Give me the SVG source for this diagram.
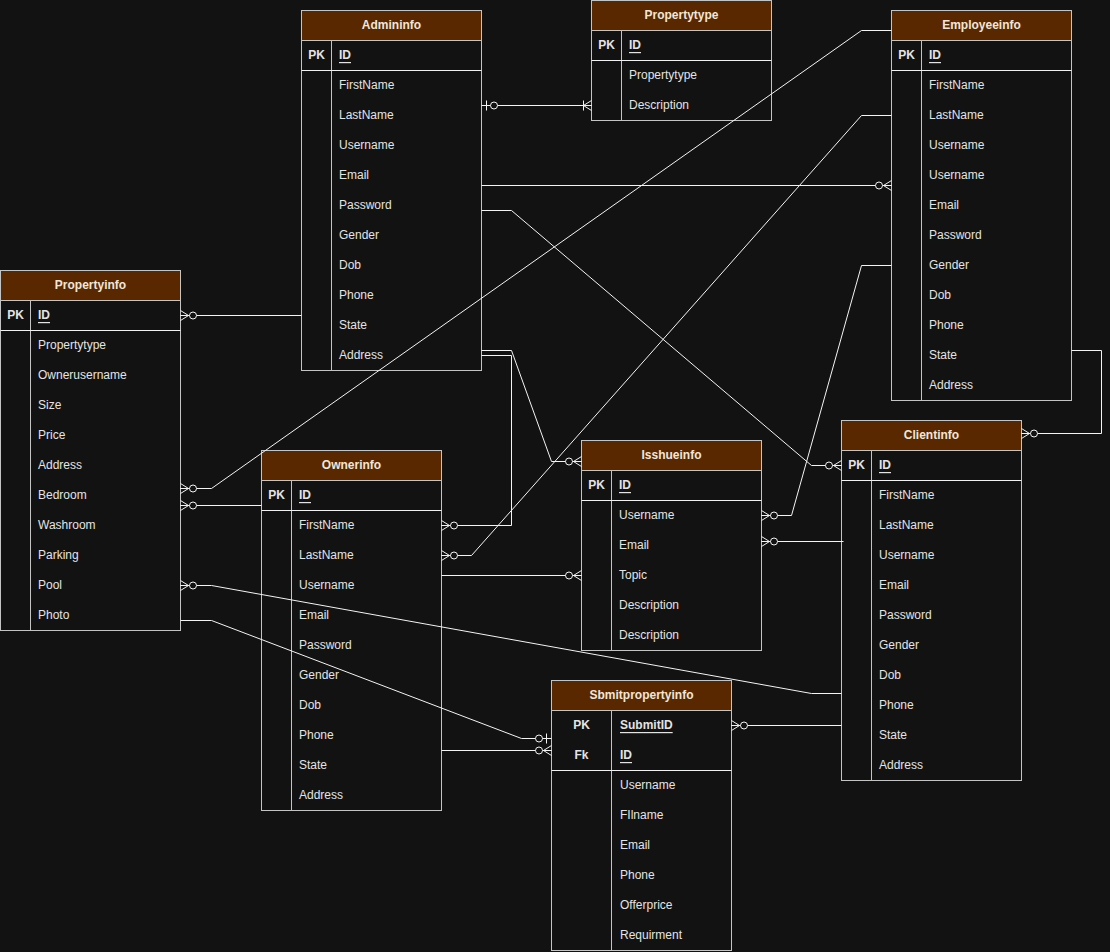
<svg xmlns="http://www.w3.org/2000/svg" width="1110" height="952" viewBox="0 0 1110 952">
  <defs>
    <style>
      .bg { fill: #121212; }
      .tb { fill: #121212; stroke: #c4c4c4; stroke-width: 1; }
      .hd { fill: #5a2800; stroke: #c4c4c4; stroke-width: 1; }
      .ln { stroke: #c4c4c4; stroke-width: 1; fill: none; }
      .sep { stroke: #f2f2f2; stroke-width: 1; fill: none; }
      .ht { font-family: "Liberation Sans", Arial, sans-serif; font-size: 12px; font-weight: bold; fill: #efe6dc; text-anchor: middle; dominant-baseline: central; }
      .t { font-family: "Liberation Sans", Arial, sans-serif; font-size: 12px; fill: #e4e4e4; dominant-baseline: central; }
      .k { text-anchor: middle; }
      .u { text-decoration: underline; }
      .b { font-weight: bold; }
      .c { stroke: #f4f4f4; stroke-width: 1; fill: none; }
      .m { stroke: #f4f4f4; stroke-width: 1; fill: #121212; }
    </style>
    <!-- crow's foot with a ring: zero or many -->
    <marker id="zeroMany" markerUnits="userSpaceOnUse" viewBox="-20 -10 22 20" refX="0" refY="0" markerWidth="22" markerHeight="20" orient="auto-start-reverse" overflow="visible">
      <path class="m" d="M-8,0 L0,-5 M-8,0 L0,0 M-8,0 L0,5"/>
      <circle class="m" cx="-12.5" cy="0" r="3.5"/>
    </marker>
    <!-- bar with a ring: zero or one -->
    <marker id="zeroOne" markerUnits="userSpaceOnUse" viewBox="-20 -10 22 20" refX="0" refY="0" markerWidth="22" markerHeight="20" orient="auto-start-reverse" overflow="visible">
      <path class="m" d="M-5,-5 L-5,5"/>
      <circle class="m" cx="-12.5" cy="0" r="3.5"/>
    </marker>
    <!-- crow's foot with a bar: one or many -->
    <marker id="oneMany" markerUnits="userSpaceOnUse" viewBox="-20 -10 22 20" refX="0" refY="0" markerWidth="22" markerHeight="20" orient="auto-start-reverse" overflow="visible">
      <path class="m" d="M-8,0 L0,-5 M-8,0 L0,0 M-8,0 L0,5 M-8,-5 L-8,5"/>
    </marker>
  </defs>

  <rect class="bg" x="0" y="0" width="1110" height="952"/>

  <!-- Admininfo -->
  <g id="admininfo">
    <rect class="tb" x="301.5" y="10.5" width="180" height="360"/>
    <rect class="hd" x="301.5" y="10.5" width="180" height="30"/>
    <text class="ht" x="391.5" y="25">Admininfo</text>
    <line class="ln" x1="331.5" y1="40.5" x2="331.5" y2="370.5"/>
    <line class="sep" x1="301.5" y1="70.5" x2="481.5" y2="70.5"/>
    <text class="t k b" x="316.5" y="55">PK</text>
    <text class="t u b" x="339" y="55">ID</text>
    <text class="t" x="339" y="85">FirstName</text>
    <text class="t" x="339" y="115">LastName</text>
    <text class="t" x="339" y="145">Username</text>
    <text class="t" x="339" y="175">Email</text>
    <text class="t" x="339" y="205">Password</text>
    <text class="t" x="339" y="235">Gender</text>
    <text class="t" x="339" y="265">Dob</text>
    <text class="t" x="339" y="295">Phone</text>
    <text class="t" x="339" y="325">State</text>
    <text class="t" x="339" y="355">Address</text>
  </g>

  <!-- Propertytype -->
  <g id="propertytype">
    <rect class="tb" x="591.5" y="0.5" width="180" height="120"/>
    <rect class="hd" x="591.5" y="0.5" width="180" height="30"/>
    <text class="ht" x="681.5" y="15">Propertytype</text>
    <line class="ln" x1="621.5" y1="30.5" x2="621.5" y2="120.5"/>
    <line class="sep" x1="591.5" y1="60.5" x2="771.5" y2="60.5"/>
    <text class="t k b" x="606.5" y="45">PK</text>
    <text class="t u b" x="629" y="45">ID</text>
    <text class="t" x="629" y="75">Propertytype</text>
    <text class="t" x="629" y="105">Description</text>
  </g>

  <!-- Employeeinfo -->
  <g id="employeeinfo">
    <rect class="tb" x="891.5" y="10.5" width="180" height="390"/>
    <rect class="hd" x="891.5" y="10.5" width="180" height="30"/>
    <text class="ht" x="981.5" y="25">Employeeinfo</text>
    <line class="ln" x1="921.5" y1="40.5" x2="921.5" y2="400.5"/>
    <line class="sep" x1="891.5" y1="70.5" x2="1071.5" y2="70.5"/>
    <text class="t k b" x="906.5" y="55">PK</text>
    <text class="t u b" x="929" y="55">ID</text>
    <text class="t" x="929" y="85">FirstName</text>
    <text class="t" x="929" y="115">LastName</text>
    <text class="t" x="929" y="145">Username</text>
    <text class="t" x="929" y="175">Username</text>
    <text class="t" x="929" y="205">Email</text>
    <text class="t" x="929" y="235">Password</text>
    <text class="t" x="929" y="265">Gender</text>
    <text class="t" x="929" y="295">Dob</text>
    <text class="t" x="929" y="325">Phone</text>
    <text class="t" x="929" y="355">State</text>
    <text class="t" x="929" y="385">Address</text>
  </g>

  <!-- Propertyinfo -->
  <g id="propertyinfo">
    <rect class="tb" x="0.5" y="270.5" width="180" height="360"/>
    <rect class="hd" x="0.5" y="270.5" width="180" height="30"/>
    <text class="ht" x="90.5" y="285">Propertyinfo</text>
    <line class="ln" x1="30.5" y1="300.5" x2="30.5" y2="630.5"/>
    <line class="sep" x1="0.5" y1="330.5" x2="180.5" y2="330.5"/>
    <text class="t k b" x="15.5" y="315">PK</text>
    <text class="t u b" x="38" y="315">ID</text>
    <text class="t" x="38" y="345">Propertytype</text>
    <text class="t" x="38" y="375">Ownerusername</text>
    <text class="t" x="38" y="405">Size</text>
    <text class="t" x="38" y="435">Price</text>
    <text class="t" x="38" y="465">Address</text>
    <text class="t" x="38" y="495">Bedroom</text>
    <text class="t" x="38" y="525">Washroom</text>
    <text class="t" x="38" y="555">Parking</text>
    <text class="t" x="38" y="585">Pool</text>
    <text class="t" x="38" y="615">Photo</text>
  </g>

  <!-- Ownerinfo -->
  <g id="ownerinfo">
    <rect class="tb" x="261.5" y="450.5" width="180" height="360"/>
    <rect class="hd" x="261.5" y="450.5" width="180" height="30"/>
    <text class="ht" x="351.5" y="465">Ownerinfo</text>
    <line class="ln" x1="291.5" y1="480.5" x2="291.5" y2="810.5"/>
    <line class="sep" x1="261.5" y1="510.5" x2="441.5" y2="510.5"/>
    <text class="t k b" x="276.5" y="495">PK</text>
    <text class="t u b" x="299" y="495">ID</text>
    <text class="t" x="299" y="525">FirstName</text>
    <text class="t" x="299" y="555">LastName</text>
    <text class="t" x="299" y="585">Username</text>
    <text class="t" x="299" y="615">Email</text>
    <text class="t" x="299" y="645">Password</text>
    <text class="t" x="299" y="675">Gender</text>
    <text class="t" x="299" y="705">Dob</text>
    <text class="t" x="299" y="735">Phone</text>
    <text class="t" x="299" y="765">State</text>
    <text class="t" x="299" y="795">Address</text>
  </g>

  <!-- Isshueinfo -->
  <g id="isshueinfo">
    <rect class="tb" x="581.5" y="440.5" width="180" height="210"/>
    <rect class="hd" x="581.5" y="440.5" width="180" height="30"/>
    <text class="ht" x="671.5" y="455">Isshueinfo</text>
    <line class="ln" x1="611.5" y1="470.5" x2="611.5" y2="650.5"/>
    <line class="sep" x1="581.5" y1="500.5" x2="761.5" y2="500.5"/>
    <text class="t k b" x="596.5" y="485">PK</text>
    <text class="t u b" x="619" y="485">ID</text>
    <text class="t" x="619" y="515">Username</text>
    <text class="t" x="619" y="545">Email</text>
    <text class="t" x="619" y="575">Topic</text>
    <text class="t" x="619" y="605">Description</text>
    <text class="t" x="619" y="635">Description</text>
  </g>

  <!-- Clientinfo -->
  <g id="clientinfo">
    <rect class="tb" x="841.5" y="420.5" width="180" height="360"/>
    <rect class="hd" x="841.5" y="420.5" width="180" height="30"/>
    <text class="ht" x="931.5" y="435">Clientinfo</text>
    <line class="ln" x1="871.5" y1="450.5" x2="871.5" y2="780.5"/>
    <line class="sep" x1="841.5" y1="480.5" x2="1021.5" y2="480.5"/>
    <text class="t k b" x="856.5" y="465">PK</text>
    <text class="t u b" x="879" y="465">ID</text>
    <text class="t" x="879" y="495">FirstName</text>
    <text class="t" x="879" y="525">LastName</text>
    <text class="t" x="879" y="555">Username</text>
    <text class="t" x="879" y="585">Email</text>
    <text class="t" x="879" y="615">Password</text>
    <text class="t" x="879" y="645">Gender</text>
    <text class="t" x="879" y="675">Dob</text>
    <text class="t" x="879" y="705">Phone</text>
    <text class="t" x="879" y="735">State</text>
    <text class="t" x="879" y="765">Address</text>
  </g>

  <!-- Sbmitpropertyinfo -->
  <g id="sbmitpropertyinfo">
    <rect class="tb" x="551.5" y="680.5" width="180" height="270"/>
    <rect class="hd" x="551.5" y="680.5" width="180" height="30"/>
    <text class="ht" x="641.5" y="695">Sbmitpropertyinfo</text>
    <line class="ln" x1="611.5" y1="710.5" x2="611.5" y2="950.5"/>
    <line class="sep" x1="551.5" y1="770.5" x2="731.5" y2="770.5"/>
    <text class="t k b" x="581.5" y="725">PK</text>
    <text class="t u b" x="620" y="725">SubmitID</text>
    <text class="t k b" x="581.5" y="755">Fk</text>
    <text class="t u b" x="620" y="755">ID</text>
    <text class="t" x="620" y="785">Username</text>
    <text class="t" x="620" y="815">FIlname</text>
    <text class="t" x="620" y="845">Email</text>
    <text class="t" x="620" y="875">Phone</text>
    <text class="t" x="620" y="905">Offerprice</text>
    <text class="t" x="620" y="935">Requirment</text>
  </g>

  <!-- relationships -->
  <g id="connectors">
    <path class="c" d="M481.5,105.5 H591.5" marker-start="url(#zeroOne)" marker-end="url(#oneMany)"/>
    <path class="c" d="M180.5,315.5 H301.5" marker-start="url(#zeroMany)"/>
    <path class="c" d="M891.5,30.5 H861.5 L211.5,488.5 H180.5" marker-end="url(#zeroMany)"/>
    <path class="c" d="M180.5,505.5 H261.5" marker-start="url(#zeroMany)"/>
    <path class="c" d="M891.5,115.5 H861.5 L471.5,555.5 H441.5" marker-end="url(#zeroMany)"/>
    <path class="c" d="M891.5,265.5 H861.5 L791.5,515.5 H761.5" marker-end="url(#zeroMany)"/>
    <path class="c" d="M481.5,185.5 H891.5" marker-end="url(#zeroMany)"/>
    <path class="c" d="M481.5,210.5 H511.5 L811.5,465.5 H841.5" marker-end="url(#zeroMany)"/>
    <path class="c" d="M481.5,350.5 H511.5 L551.5,461.5 H581.5" marker-end="url(#zeroMany)"/>
    <path class="c" d="M481.5,355.5 H511.5 V525.5 H441.5" marker-end="url(#zeroMany)"/>
    <path class="c" d="M441.5,575.5 H581.5" marker-end="url(#zeroMany)"/>
    <path class="c" d="M843.5,541.5 H761.5" marker-end="url(#zeroMany)"/>
    <path class="c" d="M1071.5,350.5 H1101.5 V433.5 H1021.5" marker-end="url(#zeroMany)"/>
    <path class="c" d="M180.5,585.5 H211.5 L811.5,693.5 H841.5" marker-start="url(#zeroMany)"/>
    <path class="c" d="M180.5,620.5 H211.5 L521.5,738.5 H551.5" marker-end="url(#zeroOne)"/>
    <path class="c" d="M441.5,750.5 H551.5" marker-end="url(#zeroMany)"/>
    <path class="c" d="M841.5,725.5 H731.5" marker-end="url(#zeroMany)"/>
  </g>
</svg>
